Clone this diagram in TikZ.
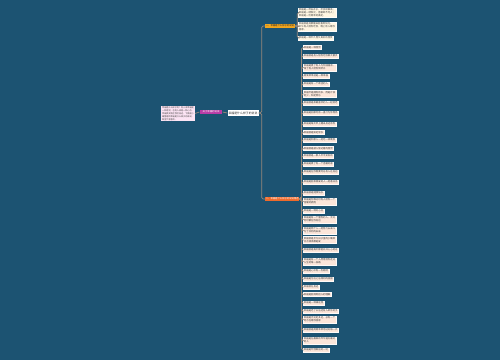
\documentclass[tikz,border=0pt]{standalone}
\usepackage{fontspec}
\setmainfont{Noto Sans CJK SC}
\usetikzlibrary{positioning,calc}
\definecolor{bgblue}{HTML}{1C5372}
\definecolor{edgegray}{HTML}{97887A}
\definecolor{magentab}{HTML}{B93CA6}
\definecolor{pinkleaf}{HTML}{FCE4F4}
\definecolor{yellowb}{HTML}{F2A71F}
\definecolor{creamleaf}{HTML}{FFF6E2}
\definecolor{orangeb}{HTML}{EE6A2B}
\definecolor{peachleaf}{HTML}{FCE6DA}
\tikzset{
  rootbox/.style={fill=white,inner xsep=1pt,inner ysep=1.2pt,
    font=\fontsize{2.9}{3.4}\selectfont,text=black!80},
  topicbox/.style={fill=magentab,text=white,inner xsep=3pt,inner ysep=1.2pt,
    font=\fontsize{2.4}{2.9}\selectfont},
  notebox/.style={fill=pinkleaf,text=black!75,inner sep=1.1pt,align=left,
    font=\fontsize{2.1}{2.9}\selectfont},
  branchy/.style={fill=yellowb,text=black!85,inner xsep=0.6pt,inner ysep=0.5pt,
    anchor=west,font=\fontsize{2.35}{2.8}\selectfont},
  brancho/.style={fill=orangeb,text=white,inner xsep=0.6pt,inner ysep=0.5pt,
    anchor=west,font=\fontsize{2.35}{2.8}\selectfont},
  leafy/.style={fill=creamleaf,draw=white!80!creamleaf,line width=0.3pt,
    text=black!75,inner sep=0.8pt,anchor=west,
    align=left,font=\fontsize{2.4}{2.9}\selectfont},
  leafo/.style={fill=peachleaf,draw=white!80!peachleaf,line width=0.3pt,
    text=black!75,inner sep=0.8pt,anchor=west,
    align=left,font=\fontsize{2.4}{2.9}\selectfont},
  link/.style={draw=edgegray,line width=0.75pt,rounded corners=1.5pt},
}
\begin{document}
\begin{tikzpicture}[x=1pt,y=-1pt]
\fill[bgblue] (0,0) rectangle (500,360);

% centre and left side
\node[rootbox] (root) at (243,113) {幸福是什么样子的说说};
\node[topicbox] (intro) at (211,112) {关于幸福的说说};
\node[notebox,anchor=east] (note) at (195,113.5)
  {幸福是什么样子的？有人说幸福是\\一种感觉，也有人说是一种心态，\\幸福其实就在我们身边，下面是小\\编整理的幸福是什么样子的说说，\\希望大家喜欢。};
\draw[link] (root.west) -- (intro.east);
\draw[link] (intro.west) -- (note.east);

% two branches
\node[branchy] (bra) at (265,26) {一、幸福是什么样子的说说};
\node[brancho] (brb) at (265,199) {二、幸福是什么样子的说说精选};
\draw[link] (root.east) -- ++(3,0) |- (bra.west);
\draw[link] (root.east) -- ++(3,0) |- (brb.west);

% first branch
\node[leafy] (a1) at (298,12.5)
  {幸福是一杯白开水，平淡却解渴；\\幸福是一缕阳光，温暖却不灼人；\\幸福是一份简单的满足。};
\node[leafy] (a2) at (298,26.5)
  {幸福就是清晨醒来能看到阳光，\\中午有人陪你吃饭，晚上有人等你\\回家。};
\node[leafy] (a3) at (298,38) {幸福是一种平凡而又真实的感受};
\foreach \n in {a1,a2,a3}
  \draw[link] (bra.east) -- ++(2.5,0) |- (\n.west);

% second branch
\foreach \y/\txt [count=\i] in {
  47.5/{幸福是一种感觉},
  56/{幸福就是有人陪你吃饭聊天散步},
  67.5/{幸福是累了有人为你捶捶背，\\渴了有人给你倒杯水},
  76/{简简单单就是一种幸福},
  84/{幸福是有一个牵挂的人},
  94/{幸福不是拥有的多，而是计较\\的少，知足常乐},
  103/{幸福就是和最喜欢的人一起变老},
  113/{幸福是回家时有一盏灯为你而亮},
  124/{幸福是每天早上醒来身边有你},
  132.5/{幸福就是知足常乐},
  140/{幸福是和家人一起吃一顿晚饭},
  148.5/{幸福就是被人惦记着的感觉},
  156/{幸福就是一家人平平安安的},
  164/{幸福是累了有一个温暖的家},
  172/{幸福是在你需要时总有人在身边},
  182/{幸福是能和相爱的人一起看日出},
  193/{幸福就是健康快乐},
  201.5/{幸福是你难过时有人给你一个\\温暖的拥抱},
  211/{幸福是一种好心态},
  219.5/{幸福是有一个懂你的人，无论\\何时都在你身边},
  230.5/{幸福是两个人一起努力去奋斗\\为了共同的未来},
  240/{幸福就是平凡日子里的小确幸\\点点滴滴都是爱},
  250/{幸福就是每天都能开开心心的过},
  261.5/{幸福是有一个人愿意陪你走过\\人生的每一段路},
  271/{幸福是心中有一份期待},
  279/{幸福是付出之后得到的回报},
  287/{幸福就在身边},
  294.5/{幸福是能得到别人的理解},
  303/{幸福是一种满足感},
  311/{幸福是老了以后还有人牵你的手},
  319.5/{幸福是无论走多远，总有一个\\地方在等你回家},
  330/{幸福就是简简单单地过好每一天},
  340.5/{幸福是在最美的年华遇见最对\\的人},
  350/{幸福是珍惜眼前的一切}}{
  \node[leafo] (b\i) at (303,\y) {\txt};
  \draw[link] (brb.east) -- ++(2,0) |- (b\i.west);
}
\end{tikzpicture}
\end{document}
